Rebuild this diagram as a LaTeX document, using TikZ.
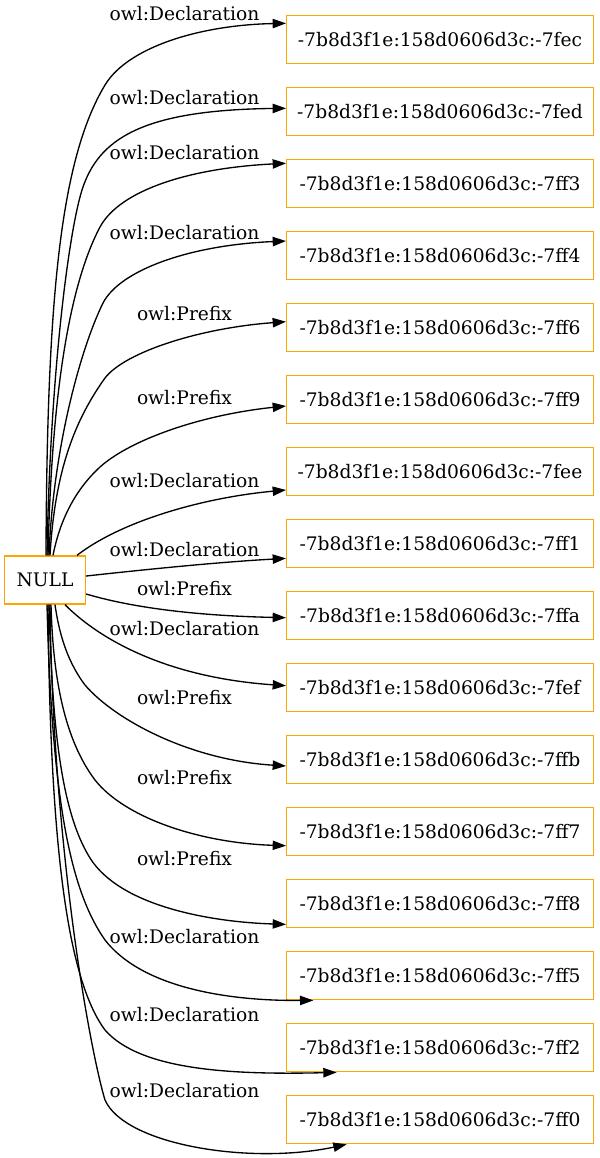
\documentclass[tikz,border=0pt]{standalone}
\usepackage{fontspec}
\setmainfont{DejaVu Serif}
\usepackage{tikz}
\usetikzlibrary{arrows.meta,positioning}
\definecolor{gvorange}{RGB}{255,165,0}

\begin{document}
\begin{tikzpicture}[
    x=0.75pt, y=-0.75pt,
    idbox/.style={rectangle, draw=gvorange, line width=1pt,
                  minimum width=230pt, minimum height=36pt, inner sep=0pt,
                  font=\fontsize{14pt}{16pt}\selectfont},
    nullbox/.style={idbox, minimum width=60.75pt},
    elabel/.style={anchor=base, inner sep=0pt, font=\fontsize{14pt}{16pt}\selectfont},
    arrow/.style={-{Triangle[length=10pt,width=7pt]}, line width=1pt, black},
    node distance=17pt
]
\useasboundingbox (0,0) rectangle (600,1158);

\node[idbox] (r7fec) at (440,39.7) {-7b8d3f1e:158d0606d3c:-7fec};
\node[idbox, below=of r7fec] (r7fed) {-7b8d3f1e:158d0606d3c:-7fed};
\node[idbox, below=of r7fed] (r7ff3) {-7b8d3f1e:158d0606d3c:-7ff3};
\node[idbox, below=of r7ff3] (r7ff4) {-7b8d3f1e:158d0606d3c:-7ff4};
\node[idbox, below=of r7ff4] (r7ff6) {-7b8d3f1e:158d0606d3c:-7ff6};
\node[idbox, below=of r7ff6] (r7ff9) {-7b8d3f1e:158d0606d3c:-7ff9};
\node[idbox, below=of r7ff9] (r7fee) {-7b8d3f1e:158d0606d3c:-7fee};
\node[idbox, below=of r7fee] (r7ff1) {-7b8d3f1e:158d0606d3c:-7ff1};
\node[idbox, below=of r7ff1] (r7ffa) {-7b8d3f1e:158d0606d3c:-7ffa};
\node[idbox, below=of r7ffa] (r7fef) {-7b8d3f1e:158d0606d3c:-7fef};
\node[idbox, below=of r7fef] (r7ffb) {-7b8d3f1e:158d0606d3c:-7ffb};
\node[idbox, below=of r7ffb] (r7ff7) {-7b8d3f1e:158d0606d3c:-7ff7};
\node[idbox, below=of r7ff7] (r7ff8) {-7b8d3f1e:158d0606d3c:-7ff8};
\node[idbox, below=of r7ff8] (r7ff5) {-7b8d3f1e:158d0606d3c:-7ff5};
\node[idbox, below=of r7ff5] (r7ff2) {-7b8d3f1e:158d0606d3c:-7ff2};
\node[idbox, below=of r7ff2] (r7ff0) {-7b8d3f1e:158d0606d3c:-7ff0};

\node[nullbox] (null) at (45,580) {NULL};

% edge labels
\node[elabel] (l7fec) at (184.5,20)     {owl:Declaration};
\node[elabel] (l7fed) at (184.5,104.3)  {owl:Declaration};
\node[elabel] (l7ff3) at (184.5,159.3)  {owl:Declaration};
\node[elabel] (l7ff4) at (184.5,239.3)  {owl:Declaration};
\node[elabel] (l7ff6) at (184.5,320)    {owl:Prefix};
\node[elabel] (l7ff9) at (184.5,404)    {owl:Prefix};
\node[elabel] (l7fee) at (184.5,487.3)  {owl:Declaration};
\node[elabel] (l7ff1) at (184.5,556)    {owl:Declaration};
\node[elabel] (l7ffa) at (184.5,595)    {owl:Prefix};
\node[elabel] (l7fef) at (184.5,635.7)  {owl:Declaration};
\node[elabel] (l7ffb) at (184.5,704)    {owl:Prefix};
\node[elabel] (l7ff7) at (184.5,784)    {owl:Prefix};
\node[elabel] (l7ff8) at (184.5,865.7)  {owl:Prefix};
\node[elabel] (l7ff5) at (184.5,943.3)  {owl:Declaration};
\node[elabel] (l7ff2) at (184.5,1021.7) {owl:Declaration};
\node[elabel] (l7ff0) at (184.5,1097.7) {owl:Declaration};

% edges going up
\draw[arrow] ([xshift=0.75pt]null.north) .. controls (47,300) and (60,160) .. (105,85) .. controls (128,47) and (200,25) .. ([yshift=12.3pt]r7fec.west);
\draw[arrow] ([xshift=1.5pt]null.north) .. controls (50,380) and (68,235) .. (82,190) .. controls (98,140) and (140,110) .. ([yshift=2.55pt]r7fed.west);
\draw[arrow] ([xshift=2.25pt]null.north) .. controls (52,380) and (72,280) .. (100,227) .. controls (120,190) and (190,168) .. ([yshift=15.3pt]r7ff3.west);
\draw[arrow] ([xshift=3pt]null.north) .. controls (53,450) and (80,350) .. (103,303) .. controls (120,270) and (190,245) .. ([yshift=11pt]r7ff4.west);
\draw[arrow] ([xshift=3.75pt]null.north) .. controls (55,470) and (75,420) .. (105,378) .. controls (125,352) and (200,328) .. ([yshift=4.5pt]r7ff6.west);
\draw[arrow] ([xshift=6pt]null.north) .. controls (60,520) and (75,490) .. (100,467) .. controls (130,440) and (200,415) .. ([yshift=-4.7pt]r7ff9.west);
\draw[arrow] ([xshift=24pt]null.north) .. controls (120,522) and (200,498) .. ([yshift=-13.7pt]r7fee.west);

% edges to the side
\draw[arrow] ([yshift=3pt]null.east) .. controls (150,569) and (220,562) .. ([yshift=-11pt]r7ff1.west);
\draw[arrow] ([yshift=-10.5pt]null.east) .. controls (140,610) and (210,616) .. ([yshift=-1.5pt]r7ffa.west);

% edges going down
\draw[arrow] ([xshift=15pt]null.south) .. controls (95,635) and (160,677) .. ([yshift=1.5pt]r7fef.west);
\draw[arrow] ([xshift=7.5pt]null.south) .. controls (60,640) and (70,665) .. (85,685) .. controls (115,720) and (190,760) .. ([yshift=-4.7pt]r7ffb.west);
\draw[arrow] ([xshift=4.5pt]null.south) .. controls (53,680) and (65,740) .. (95,780) .. controls (125,818) and (200,843) .. ([yshift=-10.5pt]r7ff7.west);
\draw[arrow] ([xshift=3pt]null.south) .. controls (52,720) and (60,810) .. (90,858) .. controls (120,906) and (210,922) .. ([yshift=-15.5pt]r7ff8.west);
\draw[arrow] ([xshift=1.5pt]null.south) .. controls (52,800) and (70,890) .. (105,940) .. controls (140,985) and (220,1001) .. ([xshift=-95pt]r7ff5.south);
\draw[arrow] ([xshift=2.25pt]null.south) .. controls (50,850) and (68,980) .. (105,1030) .. controls (140,1070) and (230,1075) .. ([xshift=-77.5pt]r7ff2.south);
\draw[arrow] ([xshift=3.75pt]null.south) .. controls (53,850) and (90,1050) .. (105,1100) .. controls (125,1145) and (250,1165) .. ([xshift=-70pt]r7ff0.south);
\end{tikzpicture}
\end{document}
